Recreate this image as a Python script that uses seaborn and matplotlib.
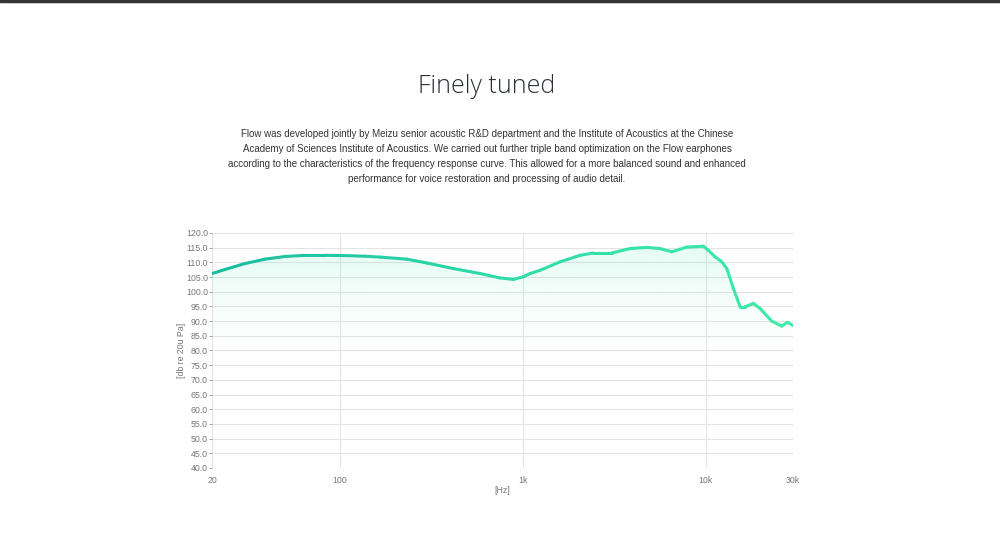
import numpy as np
import matplotlib
matplotlib.use("Agg")
from matplotlib import pyplot as plt
from matplotlib.collections import LineCollection
from matplotlib.colors import LinearSegmentedColormap
import seaborn as sns

TITLE = "Finely tuned"
BLURB = ("Flow was developed jointly by Meizu senior acoustic R&D department and the Institute of Acoustics at the Chinese\n"
         "Academy of Sciences Institute of Acoustics. We carried out further triple band optimization on the Flow earphones\n"
         "according to the characteristics of the frequency response curve. This allowed for a more balanced sound and enhanced\n"
         "performance for voice restoration and processing of audio detail.")

# frequency response
freq_hz = [20, 23.6, 30.3, 39.0, 50.1, 64.5, 83.0, 106.7, 137.3, 165.8, 232,
           298.5, 417, 584, 751, 888, 1007, 1096, 1243, 1599, 2056, 2430, 3064,
           3857, 4762, 5630, 6520, 7875, 9710, 10340, 11250, 12240, 13040,
           14170, 15410, 16410, 18220, 19820, 22970, 26050, 27940, 30000]
spl_db = [106.2, 107.6, 109.6, 111.1, 112.0, 112.4, 112.4, 112.3, 112.1, 111.8,
          111.1, 109.8, 107.9, 106.2, 104.7, 104.2, 105.1, 106.2, 107.3, 110.2,
          112.4, 113.2, 113.2, 114.7, 115.1, 114.7, 113.6, 115.2, 115.5, 114.1,
          111.9, 110.2, 107.9, 101.1, 94.9, 94.9, 96.0, 94.3, 90.0, 88.3, 89.6, 88.5]

x_ticks = [20, 100, 1000, 10000, 30000]
x_tick_labels = ["20", "100", "1k", "10k", "30k"]
y_ticks = list(range(40, 121, 5))


def main():
    sns.set_theme(style="white")
    plt.rcParams["font.family"] = ["Liberation Sans", "DejaVu Sans"]

    fig = plt.figure(figsize=(10, 5.36), dpi=100)
    fig.patch.set_facecolor("white")
    # dark strip along the top edge
    fig.add_artist(plt.Line2D([0, 1], [0.998, 0.998], color="#333333", lw=2.5,
                              transform=fig.transFigure))

    fig.text(0.487, 0.838, TITLE, ha="center", va="center", fontsize=18,
             family=["Open Sans", "DejaVu Sans"], fontweight=300, color="#2a3038")
    fig.text(0.487, 0.708, BLURB, ha="center", va="center", fontsize=7.0,
             color="#333333", linespacing=1.66)

    ax = fig.add_axes([0.212, 0.1269, 0.581, 0.4384])
    sns.lineplot(x=freq_hz, y=spl_db, ax=ax, color="#22cfa2", lw=2.2)
    base = ax.lines[0]
    pts = base.get_xydata()
    base.set_visible(False)

    # gradient stroke, teal on the left to mint on the right
    cmap = LinearSegmentedColormap.from_list("flow", ["#19bc9f", "#2fdcaa", "#3eeba8"])
    segs = np.stack([pts[:-1], pts[1:]], axis=1)
    lc = LineCollection(segs, cmap=cmap, linewidths=2.2, capstyle="round", joinstyle="round")
    lc.set_array(np.log10(pts[:-1, 0]))
    lc.set_clim(np.log10(20), np.log10(30000))
    ax.add_collection(lc)

    # soft fill fading downwards
    poly = ax.fill_between(freq_hz, spl_db, 40, facecolor="none", edgecolor="none")
    grad = np.zeros((256, 1, 4))
    grad[..., :3] = matplotlib.colors.to_rgb("#3ee6b4")
    grad[..., 3] = np.linspace(0.16, 0.0, 256)[:, None] ** 1.1
    img = ax.imshow(grad, aspect="auto", extent=[20, 30000, 80, 116],
                    origin="upper", zorder=1, interpolation="bilinear")
    img.set_clip_path(poly.get_paths()[0], transform=ax.transData)

    ax.set_xscale("log")
    ax.set_xlim(20, 30000)
    ax.set_ylim(40, 120)
    ax.set_xticks(x_ticks)
    ax.set_xticklabels(x_tick_labels)
    ax.set_xticks([], minor=True)
    ax.set_yticks(y_ticks)
    ax.set_yticklabels([f"{v:.1f}" for v in y_ticks])

    ax.grid(True, axis="y", color="#e4e4e4", lw=0.8)
    ax.grid(True, axis="x", color="#e4e4e4", lw=0.8)
    for s in ax.spines.values():
        s.set_visible(False)
    ax.axvline(30000, color="#eeeeee", lw=0.8)

    ax.tick_params(axis="y", left=True, length=2.5, width=0.6, color="#999999",
                   labelsize=6.3, labelcolor="#777777", pad=0.5, direction="out")
    ax.tick_params(axis="x", bottom=False, labelsize=6.3, labelcolor="#777777", pad=0)
    ax.set_xlabel("[Hz]", fontsize=6.3, color="#777777", labelpad=0.5)
    ax.set_ylabel("[db re 20u Pa]", fontsize=6.3, color="#777777", labelpad=0)

    fig.savefig("out.png", dpi=100, facecolor="white")


if __name__ == "__main__":
    main()
